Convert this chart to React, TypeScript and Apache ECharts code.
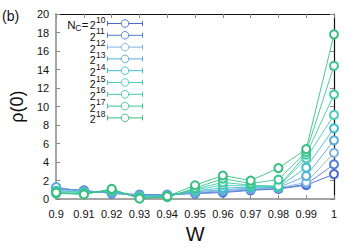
import React, { useEffect, useRef } from "react";
import * as echarts from "echarts";

const wValues = [0.9, 0.91, 0.92, 0.93, 0.94, 0.95, 0.96, 0.97, 0.98, 0.99, 1.0];
const exponents = [10, 11, 12, 13, 14, 15, 16, 17, 18];
const colors = ["#4a68d0", "#4f7fd6", "#7fb2e0", "#58acd8", "#3fbccc", "#4ccab8", "#3fcaa4", "#3cc592", "#38bf80"];

const rho10 = [1.1, 0.95, 0.6, 0.45, 0.45, 0.6, 0.7, 0.95, 1.1, 1.5, 2.7];
const rho11 = [1.2, 0.9, 0.65, 0.5, 0.5, 0.65, 0.8, 1.0, 1.15, 1.6, 3.75];
const rho12 = [1.0, 0.85, 0.7, 0.4, 0.45, 0.7, 0.9, 1.1, 1.2, 1.8, 5.0];
const rho13 = [1.3, 0.8, 0.75, 0.35, 0.4, 0.8, 1.0, 1.2, 1.25, 2.5, 6.35];
const rho14 = [0.9, 0.75, 0.8, 0.3, 0.35, 0.9, 1.2, 1.3, 1.3, 3.4, 7.65];
const rho15 = [0.8, 0.7, 0.9, 0.25, 0.3, 1.0, 1.5, 1.4, 1.35, 4.4, 9.1];
const rho16 = [0.7, 0.6, 0.95, 0.15, 0.25, 1.1, 1.8, 1.5, 1.4, 4.8, 11.3];
const rho17 = [0.6, 0.55, 1.05, 0.1, 0.2, 1.2, 2.2, 1.7, 2.1, 5.1, 14.4];
const rho18 = [0.7, 0.5, 1.1, 0.05, 0.3, 1.5, 2.55, 2.0, 3.35, 5.4, 17.8];
const allRho = [rho10, rho11, rho12, rho13, rho14, rho15, rho16, rho17, rho18];

const FONT = "Liberation Sans, Arial, sans-serif";

export default function App() {
  const ref = useRef<HTMLDivElement>(null);
  useEffect(() => {
    if (!ref.current) return;
    const chart = echarts.init(ref.current, undefined, { renderer: "svg" });
    const series = allRho.map((vals, i) => ({
      type: "line",
      name: "2^" + exponents[i],
      data: vals.map((v, j) => [wValues[j], v]),
      symbol: "emptyCircle",
      symbolSize: 8,
      lineStyle: { width: 0.9, color: colors[i] },
      itemStyle: { color: colors[i], borderWidth: 0.9 },
      z: 3,
    }));

    const y0 = 23.5;
    const dy = 11.8;
    const legendEls: any[] = [];
    exponents.forEach((e, i) => {
      const y = y0 + i * dy;
      const c = colors[i];
      legendEls.push({ type: "line", shape: { x1: 107, y1: y, x2: 143, y2: y }, style: { stroke: c, lineWidth: 1 } });
      legendEls.push({ type: "line", shape: { x1: 107.5, y1: y - 2.5, x2: 107.5, y2: y + 2.5 }, style: { stroke: c, lineWidth: 1 } });
      legendEls.push({ type: "line", shape: { x1: 142.5, y1: y - 2.5, x2: 142.5, y2: y + 2.5 }, style: { stroke: c, lineWidth: 1 } });
      legendEls.push({ type: "circle", shape: { cx: 125, cy: y, r: 3.8 }, style: { stroke: c, fill: "#fff", lineWidth: 0.9 } });
      legendEls.push({
        type: "text",
        x: 96,
        y: y - 4,
        style: { text: String(e), font: "8.5px " + FONT, fill: "#111", align: "left", verticalAlign: "middle" },
      });
      legendEls.push({
        type: "text",
        x: 95.5,
        y: y + 1.5,
        style: { text: "2", font: "10.5px " + FONT, fill: "#111", align: "right", verticalAlign: "middle" },
      });
    });
    legendEls.push({
      type: "text",
      x: 88.5,
      y: y0 + 1.5,
      style: { text: "=", font: "11.5px " + FONT, fill: "#111", align: "right", verticalAlign: "middle" },
    });
    legendEls.push({
      type: "text",
      x: 81.5,
      y: y0 + 4.5,
      style: { text: "C", font: "8.5px " + FONT, fill: "#111", align: "right", verticalAlign: "middle" },
    });
    legendEls.push({
      type: "text",
      x: 75.5,
      y: y0 + 1.5,
      style: { text: "N", font: "11.5px " + FONT, fill: "#111", align: "right", verticalAlign: "middle" },
    });
    legendEls.push({
      type: "text",
      x: 2,
      y: 16,
      style: { text: "(b)", font: "14px " + FONT, fill: "#111", align: "left", verticalAlign: "middle" },
    });

    const fmtX = (v: number) => String(Number(v.toFixed(2)));
    chart.setOption({
      animation: false,
      backgroundColor: "#fff",
      grid: { left: 51, right: 22, top: 14, bottom: 39 },
      xAxis: [
        {
          type: "value",
          min: 0.9,
          max: 1.0,
          interval: 0.01,
          name: "W",
          nameLocation: "middle",
          nameGap: 23,
          nameTextStyle: { fontSize: 20, fontFamily: FONT, color: "#111" },
          axisLine: { show: true, lineStyle: { color: "#888", width: 1.5 } },
          axisTick: { show: true, inside: true, length: 4, lineStyle: { color: "#888" } },
          axisLabel: { formatter: fmtX, fontSize: 11, fontFamily: FONT, color: "#111", margin: 9 },
          splitLine: { show: false },
        },
        {
          type: "value",
          position: "top",
          min: 0.9,
          max: 1.0,
          interval: 0.01,
          axisLine: { show: true, onZero: false, lineStyle: { color: "#111", width: 1 } },
          axisTick: { show: true, inside: true, length: 4, lineStyle: { color: "#888" } },
          axisLabel: { show: false },
          splitLine: { show: false },
        },
      ],
      yAxis: [
        {
          type: "value",
          min: 0,
          max: 20,
          interval: 2,
          name: "ρ(0)",
          nameLocation: "middle",
          nameGap: 29,
          nameRotate: 90,
          nameTextStyle: { fontSize: 18, fontFamily: FONT, color: "#111" },
          axisLine: { show: true, lineStyle: { color: "#888", width: 1.5 } },
          axisTick: { show: true, inside: true, length: 4, lineStyle: { color: "#888" } },
          axisLabel: { fontSize: 11, fontFamily: FONT, color: "#111", margin: 7 },
          splitLine: { show: false },
        },
        {
          type: "value",
          position: "right",
          min: 0,
          max: 20,
          interval: 2,
          axisLine: { show: true, onZero: false, lineStyle: { color: "#111", width: 1.2 } },
          axisTick: { show: true, inside: true, length: 4, lineStyle: { color: "#888" } },
          axisLabel: { show: false },
          splitLine: { show: false },
        },
      ],
      series,
      graphic: legendEls,
    });
    return () => chart.dispose();
  }, []);
  return <div ref={ref} style={{ position: "fixed", left: 0, top: 0, width: 356, height: 249 }} />;
}
